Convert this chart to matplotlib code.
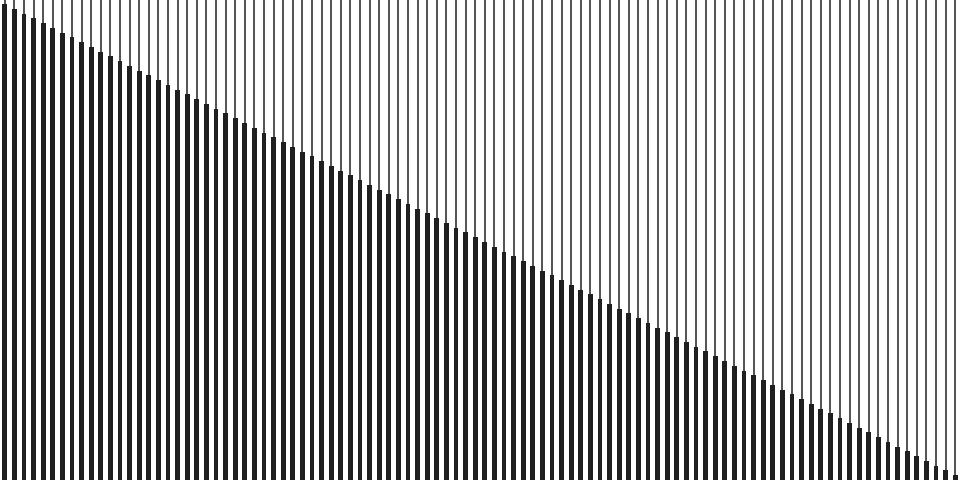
import matplotlib
matplotlib.use("Agg")
import matplotlib.pyplot as plt
import numpy as np

# data: 100 bars descending from 100 to 1
positions = list(range(100))
values = [100 - i for i in range(100)]

fig = plt.figure(figsize=(9.6, 4.8), dpi=100)
ax = fig.add_axes([0, 0, 1, 1])
ax.vlines(positions, 0, 1, transform=ax.get_xaxis_transform(),
          colors="#222222", linewidth=1.1)
ax.bar(positions, values, width=0.5, color="#1e1e1e", linewidth=0)
ax.set_xlim(-0.5, 99.5)
ax.set_ylim(0, 100.84)
ax.axis("off")
fig.savefig("out.png", dpi=100, facecolor="white")
